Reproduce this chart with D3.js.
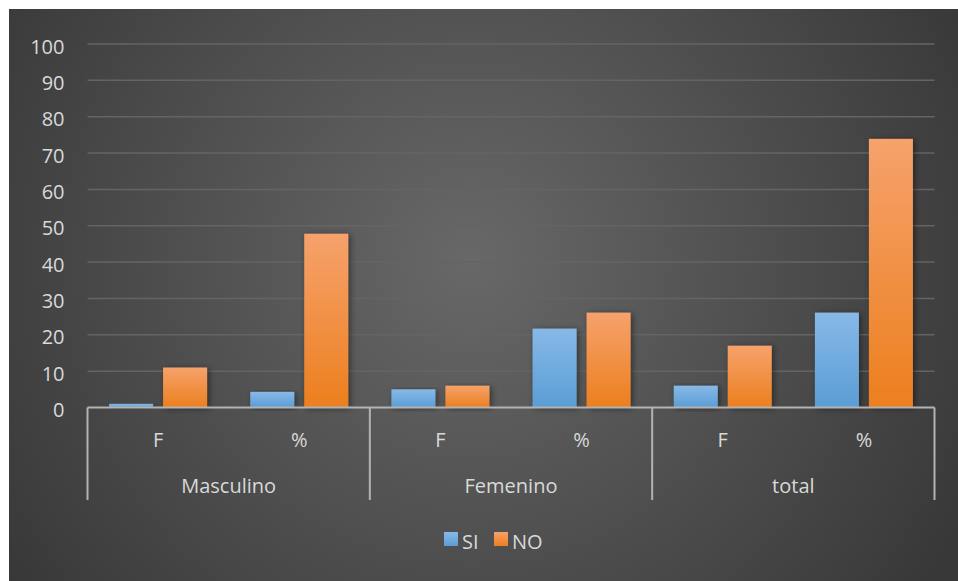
<!DOCTYPE html>
<html>
<head>
<meta charset="utf-8">
<script src="https://cdn.jsdelivr.net/npm/d3@7"></script>
<style>
  html, body { margin: 0; padding: 0; background: #ffffff; }
  svg { display: block; }
  text { font-family: "Open Sans", sans-serif; fill: #d9d9d9; }
</style>
</head>
<body>
<svg id="chart" width="958" height="581"></svg>
<script>
// Groups and sub-columns on the x axis
const groups = ["Masculino", "Femenino", "total"];
const subCats = ["F", "%"];
// Series
const seriesNames = ["SI", "NO"];
const siValues = [1, 4.3, 5, 21.7, 6, 26.1];
const noValues = [11, 47.8, 6, 26.1, 17, 73.9];
// Value axis ticks
const yTicks = [0, 10, 20, 30, 40, 50, 60, 70, 80, 90, 100];

const svg = d3.select("#chart");
const W = 958, H = 581;
const plot = { left: 87.5, right: 934.5, top: 44, bottom: 407.5 };
const FONT = "'Open Sans', sans-serif";

const defs = svg.append("defs");

// Background radial shading
const bg = defs.append("radialGradient").attr("id", "bgGrad")
  .attr("gradientUnits", "userSpaceOnUse")
  .attr("cx", 470).attr("cy", 260).attr("r", 560);
bg.append("stop").attr("offset", "0%").attr("stop-color", "#686868");
bg.append("stop").attr("offset", "100%").attr("stop-color", "#383838");

function barGradient(id, top, bottom) {
  const g = defs.append("linearGradient").attr("id", id)
    .attr("x1", 0).attr("y1", 0).attr("x2", 0).attr("y2", 1);
  g.append("stop").attr("offset", "0%").attr("stop-color", top);
  g.append("stop").attr("offset", "100%").attr("stop-color", bottom);
}
barGradient("gradSI", "#87b9e8", "#5a9dd5");
barGradient("gradNO", "#f6a26c", "#ec7f1e");

const shadow = defs.append("filter").attr("id", "barShadow")
  .attr("x", "-30%").attr("y", "-10%").attr("width", "160%").attr("height", "130%");
shadow.append("feDropShadow").attr("dx", 2).attr("dy", 1).attr("stdDeviation", 3)
  .attr("flood-color", "#000").attr("flood-opacity", 0.45);

svg.append("rect").attr("x", 9).attr("y", 9).attr("width", W - 9).attr("height", H - 9)
  .attr("fill", "url(#bgGrad)");

// Scales
const columns = [];
groups.forEach(g => subCats.forEach(s => columns.push(g + "|" + s)));
const x = d3.scaleBand().domain(columns).range([plot.left, plot.right]).paddingInner(0).paddingOuter(0);
const xGroup = d3.scaleBand().domain(groups).range([plot.left, plot.right]);
const y = d3.scaleLinear().domain([0, 100]).range([plot.bottom, plot.top]);

// Gridlines
svg.append("g").selectAll("line").data(yTicks.filter(t => t > 0)).join("line")
  .attr("x1", plot.left).attr("x2", plot.right)
  .attr("y1", d => y(d)).attr("y2", d => y(d))
  .attr("stroke", "#646464").attr("stroke-width", 1.5);

// Y axis labels
const yAxis = d3.axisLeft(y).tickValues(yTicks).tickSize(0).tickPadding(0);
const yg = svg.append("g").attr("transform", `translate(${plot.left - 23},0)`).call(yAxis);
yg.select(".domain").remove();
yg.selectAll("text").attr("font-size", 20).attr("fill", "#d9d9d9")
  .attr("dy", "0.45em").style("font-family", FONT);

// Bars
const inner = d3.scaleBand().domain(seriesNames).range([0, x.bandwidth()]).paddingInner(0.185).paddingOuter(0.4);
const rows = columns.map((c, i) => ({ col: c, SI: siValues[i], NO: noValues[i] }));
const barG = svg.append("g");
seriesNames.forEach(s => {
  barG.append("g").selectAll("rect").data(rows).join("rect")
    .attr("x", d => x(d.col) + inner(s))
    .attr("width", inner.bandwidth())
    .attr("y", d => y(d[s]))
    .attr("height", d => y(0) - y(d[s]))
    .attr("fill", `url(#grad${s})`)
    .attr("filter", "url(#barShadow)");
});

// Category axis: baseline and group separators
const axisColor = "#b3b3b3";
svg.append("line").attr("x1", plot.left).attr("x2", plot.right)
  .attr("y1", plot.bottom).attr("y2", plot.bottom)
  .attr("stroke", axisColor).attr("stroke-width", 2);
const seps = groups.map(g => xGroup(g)).concat([plot.right]);
svg.append("g").selectAll("line").data(seps).join("line")
  .attr("x1", d => d).attr("x2", d => d)
  .attr("y1", plot.bottom).attr("y2", 500)
  .attr("stroke", axisColor).attr("stroke-width", 2);

// Sub-category labels
svg.append("g").selectAll("text").data(columns).join("text")
  .attr("x", d => x(d) + x.bandwidth() / 2).attr("y", 447)
  .attr("text-anchor", "middle").attr("font-size", 20)
  .text(d => d.split("|")[1]);

// Group labels
svg.append("g").selectAll("text").data(groups).join("text")
  .attr("x", d => xGroup(d) + xGroup.bandwidth() / 2).attr("y", 493)
  .attr("text-anchor", "middle").attr("font-size", 20)
  .text(d => d);

// Legend
const legend = svg.append("g");
const legendItems = [
  { name: "SI", fill: "url(#gradSI)", x: 444 },
  { name: "NO", fill: "url(#gradNO)", x: 494 }
];
legendItems.forEach(it => {
  legend.append("rect").attr("x", it.x).attr("y", 532).attr("width", 14).attr("height", 14).attr("fill", it.fill);
  legend.append("text").attr("x", it.x + 18).attr("y", 549).attr("font-size", 20).text(it.name);
});
</script>
</body>
</html>
